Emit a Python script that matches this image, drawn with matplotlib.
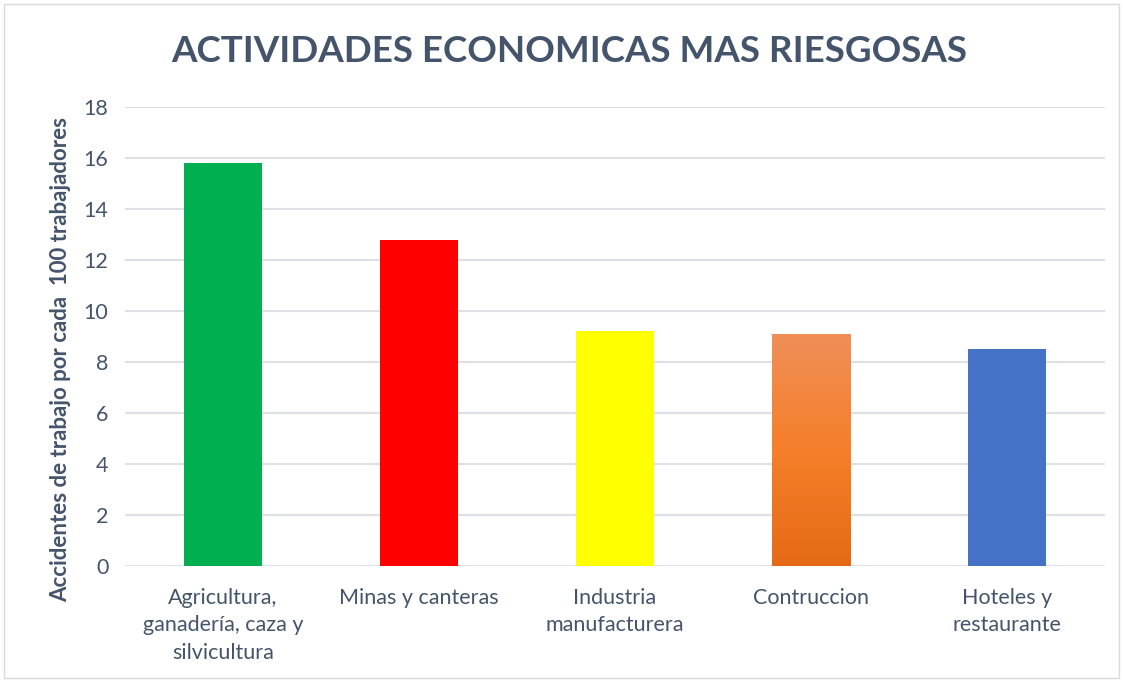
import matplotlib.pyplot as plt
import numpy as np
from matplotlib.colors import LinearSegmentedColormap
from matplotlib.patches import Rectangle

categories = ["Agricultura,\nganadería, caza y\nsilvicultura", "Minas y canteras",
              "Industria\nmanufacturera", "Contruccion", "Hoteles y\nrestaurante"]
values = [15.8, 12.8, 9.2, 9.1, 8.5]
colors = ["#00B050", "#FF0000", "#FFFF00", "#F2813A", "#4472C4"]
yticks = [0, 2, 4, 6, 8, 10, 12, 14, 16, 18]

text_color = "#44546A"
plt.rcParams['font.family'] = ['Lato', 'DejaVu Sans']

fig = plt.figure(figsize=(11.23, 6.81), dpi=100)
ax = fig.add_axes([0.1113, 0.1689, 0.8727, 0.674])

x = np.arange(len(categories))
bars = ax.bar(x, values, width=0.4, color=colors, zorder=3)

# gradient fill for the orange bar
orange = bars[3]
cmap = LinearSegmentedColormap.from_list("og", ["#E66A16", "#F57F2A", "#F08F58"])
bx, by = orange.get_x(), orange.get_y()
bw, bh = orange.get_width(), orange.get_height()
grad = np.linspace(0, 1, 256).reshape(-1, 1)
im = ax.imshow(grad, cmap=cmap, origin="lower", aspect="auto",
               extent=[bx, bx + bw, by, by + bh], zorder=4)
im.set_clip_path(orange)
orange.set_facecolor("none")

ax.set_xlim(-0.5, len(categories) - 0.5)
ax.set_ylim(0, 18)
ax.set_yticks(yticks)
ax.set_xticks(x)
ax.set_xticklabels(categories, fontsize=15.5, color=text_color, linespacing=1.45)
ax.tick_params(axis="y", labelsize=15.5, labelcolor=text_color, length=0, pad=12)
ax.tick_params(axis="x", length=0, pad=16)
ax.grid(axis="y", color="#DDE1E6", linewidth=1.5, zorder=0)
for s in ax.spines.values():
    s.set_visible(False)

ax.set_ylabel("Accidentes de trabajo por cada  100 trabajadores", fontsize=16,
              fontweight="bold", color=text_color)
ax.yaxis.set_label_coords(-0.055, 0.45)

fig.text(0.507, 0.925, "ACTIVIDADES ECONOMICAS MAS RIESGOSAS", ha="center", va="center",
         fontsize=26.5, fontweight="bold", color=text_color)

fig.patches.append(Rectangle((0.004, 0.004), 0.992, 0.99, transform=fig.transFigure,
                             fill=False, edgecolor="#D9D9D9", linewidth=1))

fig.savefig("out.png", dpi=100)
